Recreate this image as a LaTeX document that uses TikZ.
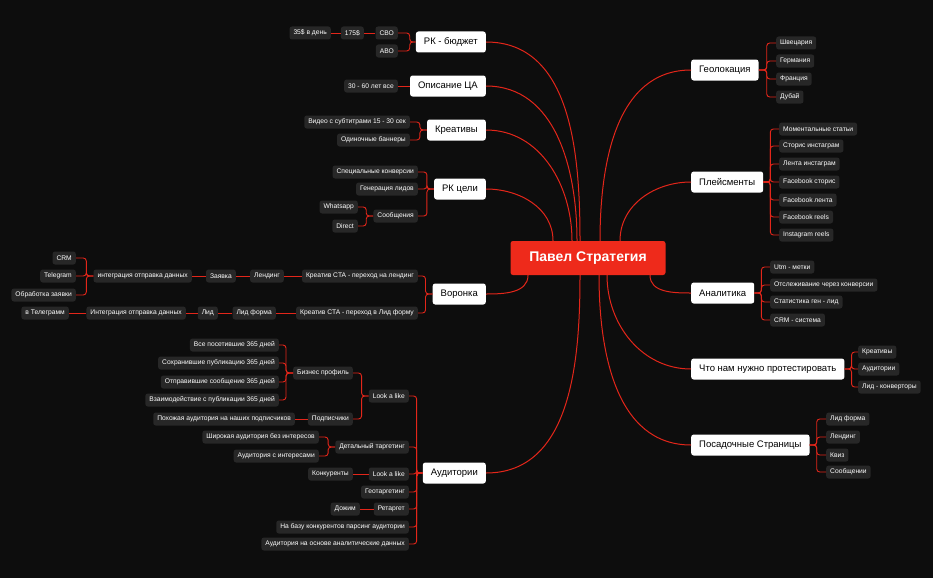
\documentclass[tikz,border=0pt]{standalone}
\usepackage{fontspec}
\setmainfont{Liberation Sans}
\definecolor{bg}{HTML}{0D0D0D}
\definecolor{ln}{HTML}{E3261A}
\definecolor{sb}{HTML}{272727}
\definecolor{cr}{HTML}{EE2A1B}
\tikzset{
  sm/.style={rectangle,rounded corners=2.5pt,fill=sb,text=white,font=\fontsize{6.7}{8}\selectfont,inner xsep=4pt,inner ysep=0pt,minimum height=13pt},
  mn/.style={rectangle,rounded corners=2.5pt,fill=white,text=black,font=\fontsize{9.5}{11}\selectfont,inner xsep=8pt,inner ysep=0pt,minimum height=21pt},
  ctr/.style={rectangle,rounded corners=2.5pt,fill=cr,text=white,font=\fontsize{14}{16}\selectfont\bfseries,inner xsep=12pt,minimum height=34pt,minimum width=155pt},
  lnk/.style={draw=ln,line width=0.9pt,rounded corners=3pt},
  big/.style={draw=ln,line width=1pt}
}
\newcommand\lk[3]{\draw[lnk] (#1.west) -- ++(-#3,0) |- (#2.east);}
\newcommand\rk[3]{\draw[lnk] (#1.east) -- ++(#3,0) |- (#2.west);}
\newcommand\ls[2]{\draw[lnk] (#1.west) -- (#2.east);}
\begin{document}
\begin{tikzpicture}[x=1pt,y=-1pt]
\fill[bg] (0,0) rectangle (933,578);
\useasboundingbox (0,0) rectangle (933,578);
\node[ctr] (c) at (588,258) {Павел Стратегия};
% left main
\node[mn,anchor=east] (bud) at (486,42) {РК - бюджет};
\node[mn,anchor=east] (ca) at (486,86) {Описание ЦА};
\node[mn,anchor=east] (kr) at (486,130) {Креативы};
\node[mn,anchor=east] (rkc) at (486,189) {РК цели};
\node[mn,anchor=east] (vor) at (486,294) {Воронка};
\node[mn,anchor=east] (aud) at (486,473) {Аудитории};
% right main
\node[mn,anchor=west] (geo) at (691,70) {Геолокация};
\node[mn,anchor=west] (pl) at (691,182) {Плейсменты};
\node[mn,anchor=west] (an) at (691,293) {Аналитика};
\node[mn,anchor=west] (test) at (691,369) {Что нам нужно протестировать};
\node[mn,anchor=west] (pos) at (691,445) {Посадочные Страницы};
% center links
\draw[big] ([xshift=-8pt]c.north) to[out=90,in=0] (bud.east);
\draw[big] ([xshift=-11pt]c.north) to[out=90,in=0] (ca.east);
\draw[big] ([xshift=-16pt]c.north) to[out=90,in=0] (kr.east);
\draw[big] ([xshift=-35pt]c.north) to[out=90,in=0] (rkc.east);
\draw[big] ([xshift=-60pt]c.south) to[out=-90,in=0] (vor.east);
\draw[big] ([xshift=-8pt]c.south) to[out=-90,in=0] (aud.east);
\draw[big] ([xshift=12pt]c.north) to[out=90,in=180] (geo.west);
\draw[big] ([xshift=32pt]c.north) to[out=90,in=180] (pl.west);
\draw[big] ([xshift=62pt]c.south) to[out=-90,in=180] (an.west);
\draw[big] ([xshift=19pt]c.south) to[out=-90,in=180] (test.west);
\draw[big] ([xshift=11pt]c.south) to[out=-90,in=180] (pos.west);
% budget
\node[sm,anchor=east] (svo) at (398,33) {СВО};
\node[sm,anchor=east] (abo) at (398,51) {АВО};
\node[sm,anchor=east] (p175) at (364,33) {175\$};
\node[sm,anchor=east] (p35) at (331,33) {35\$ в день};
\lk{bud}{svo}{6}\lk{bud}{abo}{6}\ls{svo}{p175}\ls{p175}{p35}
\node[sm,anchor=east] (age) at (398,86) {30 - 60 лет все};
\ls{ca}{age}
\node[sm,anchor=east] (vid) at (410,122) {Видео с субтитрами 15 - 30 сек};
\node[sm,anchor=east] (ban) at (410,140) {Одиночные баннеры};
\lk{kr}{vid}{7}\lk{kr}{ban}{7}
\node[sm,anchor=east] (spk) at (418,172) {Специальные конверсии};
\node[sm,anchor=east] (gen) at (418,189) {Генерация лидов};
\node[sm,anchor=east] (soo) at (418,216) {Сообщения};
\lk{rkc}{spk}{7}\lk{rkc}{gen}{7}\lk{rkc}{soo}{7}
\node[sm,anchor=east] (wa) at (358,207) {Whatsapp};
\node[sm,anchor=east] (dir) at (358,226) {Direct};
\lk{soo}{wa}{7}\lk{soo}{dir}{7}
% voronka
\node[sm,anchor=east] (v1) at (418,276) {Креатив CTA - переход на лендинг};
\node[sm,anchor=east] (v2) at (418,313) {Креатив CTA - переход в Лид форму};
\lk{vor}{v1}{7}\lk{vor}{v2}{7}
\node[sm,anchor=east] (len) at (284,276) {Лендинг};
\node[sm,anchor=east] (zay) at (236,276) {Заявка};
\node[sm,anchor=east] (int1) at (192,276) {интеграция отправка данных};
\ls{v1}{len}\ls{len}{zay}\ls{zay}{int1}
\node[sm,anchor=east] (crm) at (76,258) {CRM};
\node[sm,anchor=east] (tg) at (76,276) {Telegram};
\node[sm,anchor=east] (obr) at (76,295) {Обработка заявки};
\lk{int1}{crm}{7}\lk{int1}{tg}{7}\lk{int1}{obr}{7}
\node[sm,anchor=east] (lf) at (276,313) {Лид форма};
\node[sm,anchor=east] (lid) at (218,313) {Лид};
\node[sm,anchor=east] (int2) at (186,313) {Интеграция отправка данных};
\node[sm,anchor=east] (vtg) at (69,313) {в Телеграмм};
\ls{v2}{lf}\ls{lf}{lid}\ls{lid}{int2}\ls{int2}{vtg}
% auditorii
\node[sm,anchor=east] (lal1) at (409,396) {Look a like};
\node[sm,anchor=east] (det) at (409,447) {Детальный таргетинг};
\node[sm,anchor=east] (lal2) at (409,474) {Look a like};
\node[sm,anchor=east] (geot) at (409,492) {Геотаргетинг};
\node[sm,anchor=east] (ret) at (409,509) {Ретаргет};
\node[sm,anchor=east] (pars) at (409,527) {На базу конкурентов парсинг аудитории};
\node[sm,anchor=east] (anal) at (409,544) {Аудитория на основе аналитические данных};
\foreach \n in {lal1,det,lal2,geot,ret,pars,anal}{\lk{aud}{\n}{6}}
\node[sm,anchor=east] (biz) at (353,373) {Бизнес профиль};
\node[sm,anchor=east] (pod) at (353,419) {Подписчики};
\lk{lal1}{biz}{7}\lk{lal1}{pod}{7}
\node[sm,anchor=east] (b1) at (279,345) {Все посетившие 365 дней};
\node[sm,anchor=east] (b2) at (279,363) {Сохранившие публикацию 365 дней};
\node[sm,anchor=east] (b3) at (279,382) {Отправившие сообщение 365 дней};
\node[sm,anchor=east] (b4) at (279,400) {Взаимодействие с публикации 365 дней};
\foreach \n in {b1,b2,b3,b4}{\lk{biz}{\n}{7}}
\node[sm,anchor=east] (poh) at (295,419) {Похожая аудитория на наших подписчиков};
\ls{pod}{poh}
\node[sm,anchor=east] (shir) at (319,437) {Широкая аудитория без интересов};
\node[sm,anchor=east] (sint) at (319,456) {Аудитория с интересами};
\lk{det}{shir}{7}\lk{det}{sint}{7}
\node[sm,anchor=east] (konk) at (353,474) {Конкуренты};
\ls{lal2}{konk}
\node[sm,anchor=east] (doj) at (360,509) {Дожим};
\ls{ret}{doj}
% right children
\node[sm,anchor=west] (g1) at (776,43) {Швецария};
\node[sm,anchor=west] (g2) at (776,61) {Германия};
\node[sm,anchor=west] (g3) at (776,79) {Франция};
\node[sm,anchor=west] (g4) at (776,97) {Дубай};
\foreach \n in {g1,g2,g3,g4}{\rk{geo}{\n}{8}}
\node[sm,anchor=west] (p1) at (779,129) {Моментальные статьи};
\node[sm,anchor=west] (p2) at (779,146) {Сторис инстаграм};
\node[sm,anchor=west] (p3) at (779,164) {Лента инстаграм};
\node[sm,anchor=west] (p4) at (779,182) {Facebook сторис};
\node[sm,anchor=west] (p5) at (779,200) {Facebook лента};
\node[sm,anchor=west] (p6) at (779,217) {Facebook reels};
\node[sm,anchor=west] (p7) at (779,235) {Instagram reels};
\foreach \n in {p1,p2,p3,p4,p5,p6,p7}{\rk{pl}{\n}{7}}
\node[sm,anchor=west] (a1) at (770,267) {Utm - метки};
\node[sm,anchor=west] (a2) at (770,285) {Отслеживание через конверсии};
\node[sm,anchor=west] (a3) at (770,302) {Статистика ген - лид};
\node[sm,anchor=west] (a4) at (770,320) {CRM - система};
\foreach \n in {a1,a2,a3,a4}{\rk{an}{\n}{7}}
\node[sm,anchor=west] (t1) at (858,352) {Креативы};
\node[sm,anchor=west] (t2) at (858,369) {Аудитории};
\node[sm,anchor=west] (t3) at (858,387) {Лид - конверторы};
\foreach \n in {t1,t2,t3}{\rk{test}{\n}{7}}
\node[sm,anchor=west] (s1) at (826,419) {Лид форма};
\node[sm,anchor=west] (s2) at (826,437) {Лендинг};
\node[sm,anchor=west] (s3) at (826,455) {Квиз};
\node[sm,anchor=west] (s4) at (826,472) {Сообщении};
\foreach \n in {s1,s2,s3,s4}{\rk{pos}{\n}{7}}
\end{tikzpicture}
\end{document}
